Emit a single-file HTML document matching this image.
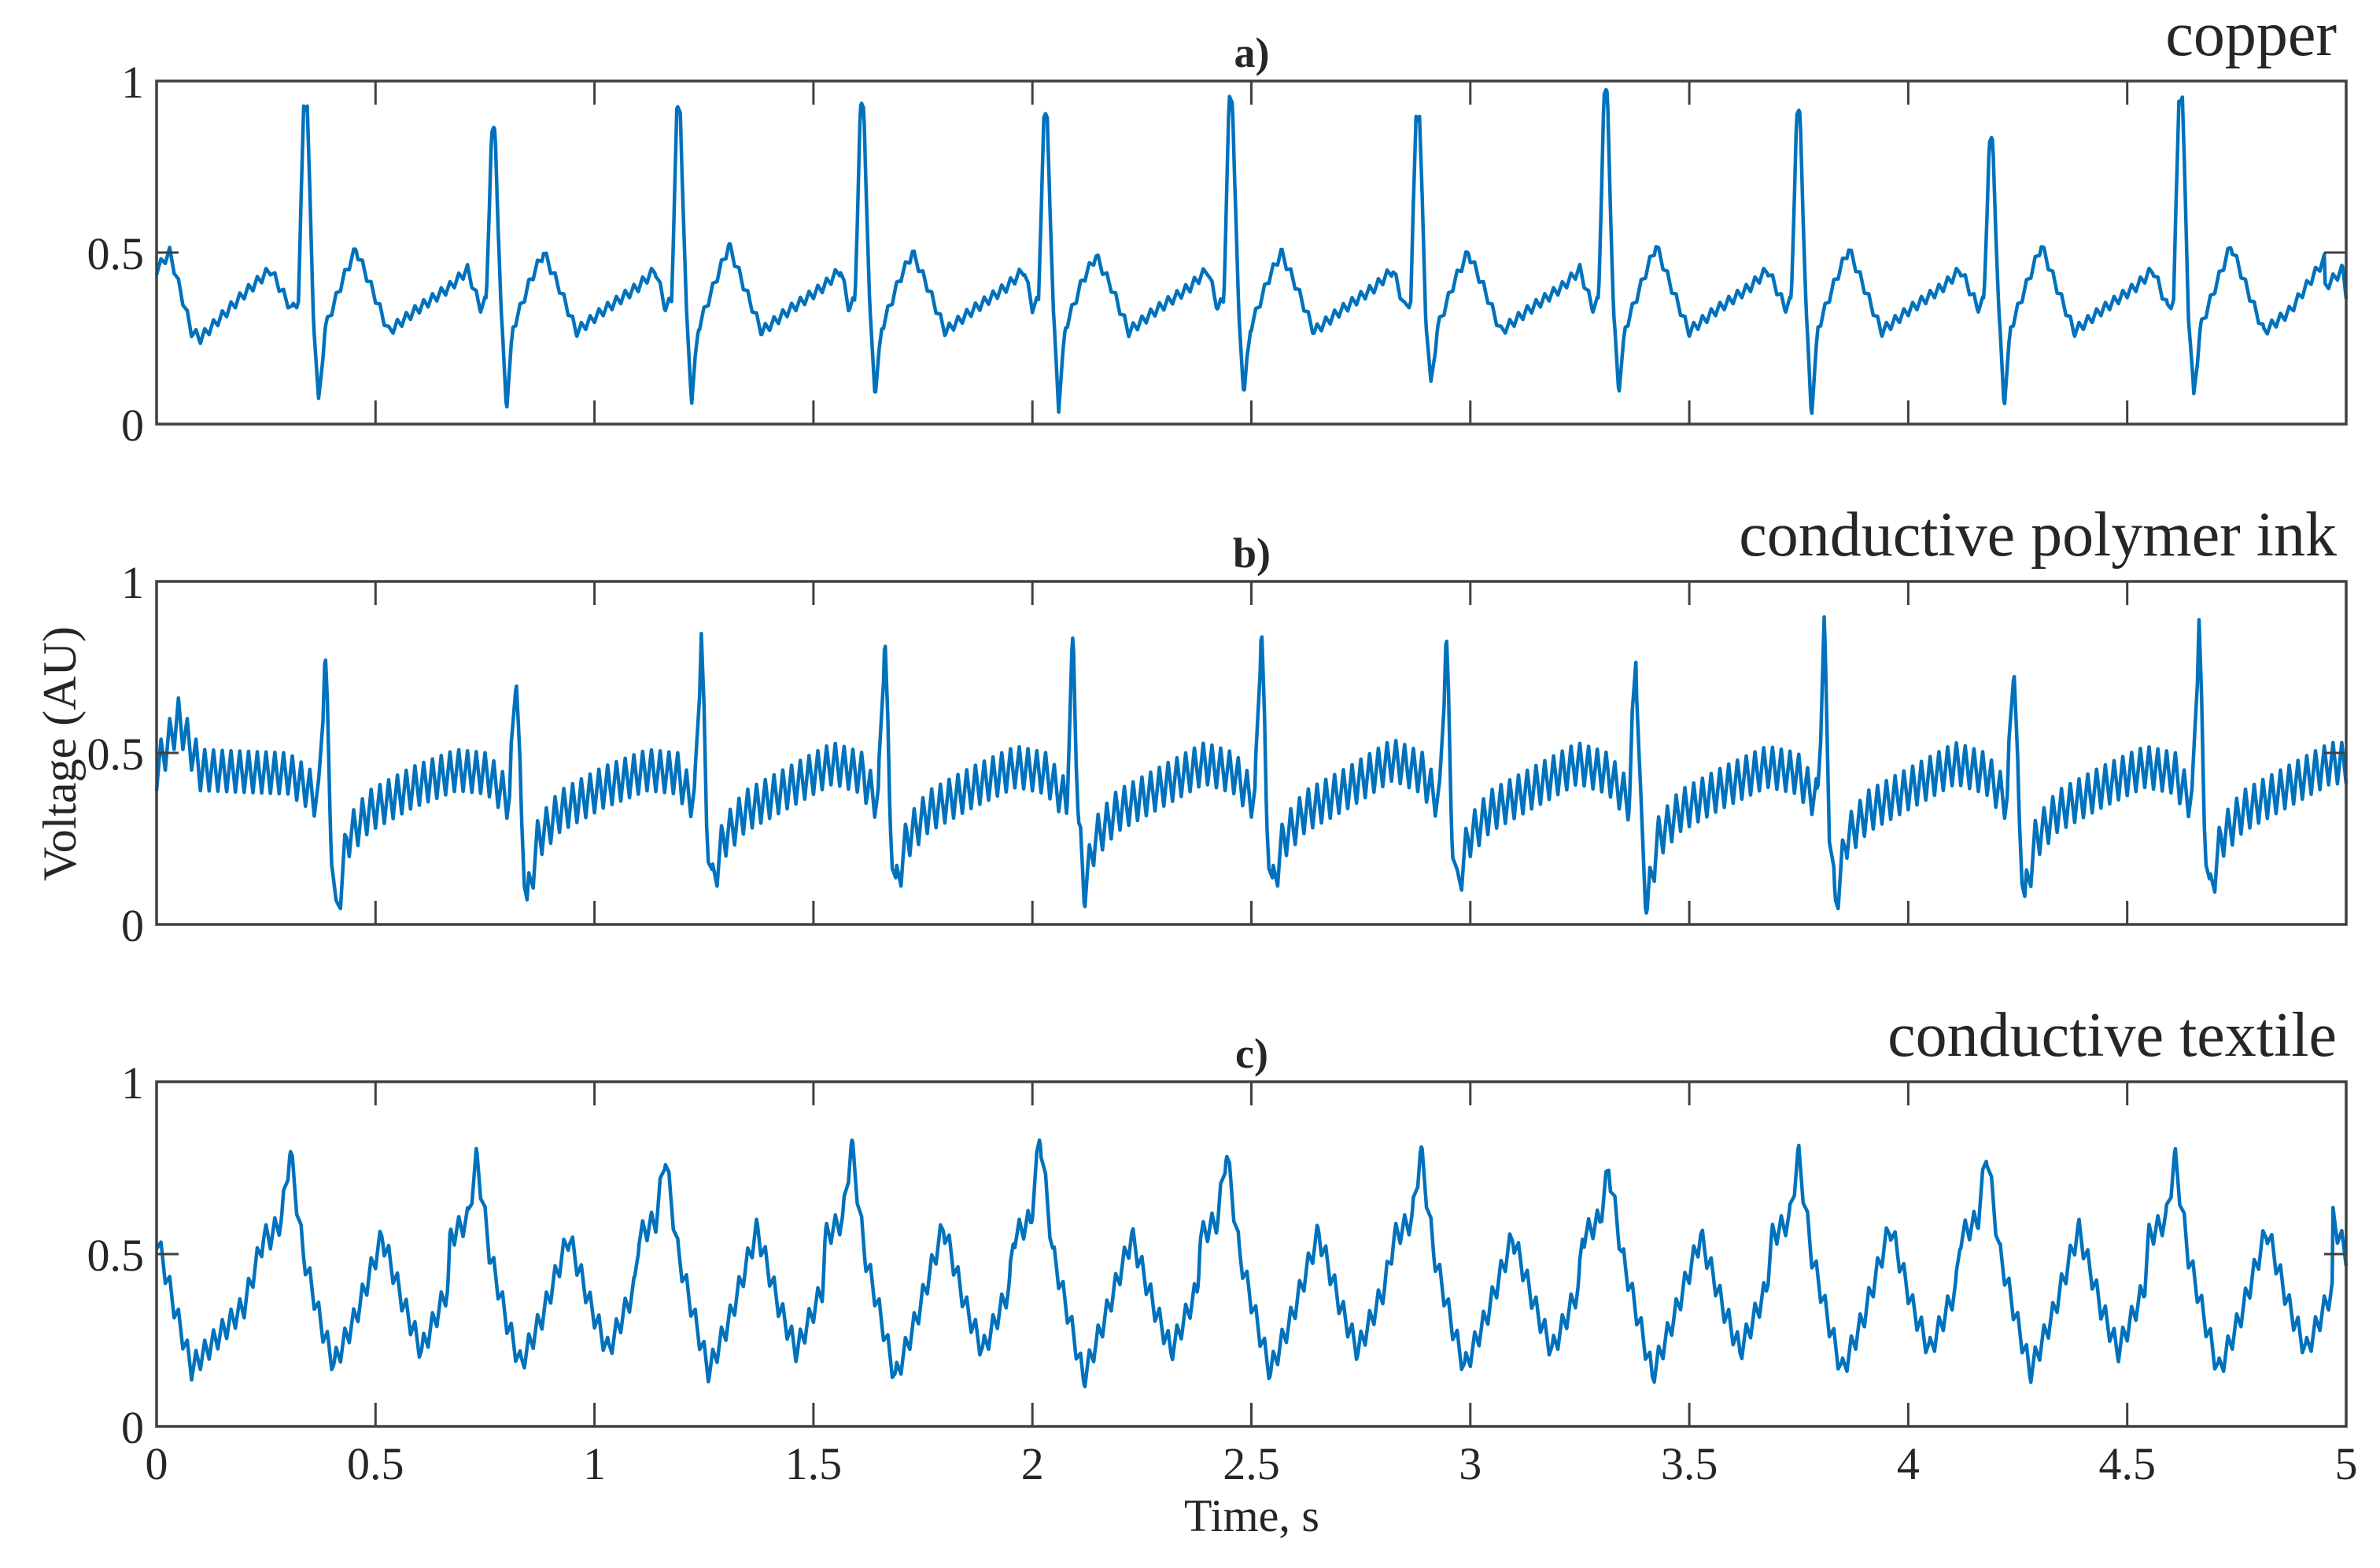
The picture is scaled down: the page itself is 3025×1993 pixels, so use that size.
<!DOCTYPE html>
<html><head><meta charset="utf-8"><style>
html,body{margin:0;padding:0;background:#fff;}
svg{display:block;}
text{font-family:"Liberation Serif",serif;fill:#262626;}
</style></head><body>
<svg id="chart" width="3025" height="1993" viewBox="0 0 3025 1993" xmlns="http://www.w3.org/2000/svg">
<g id="g"></g>
</svg>
<script>
// ---- data ----
const xTicks = [0,0.5,1,1.5,2,2.5,3,3.5,4,4.5,5];
const xTickLabels = ["0","0.5","1","1.5","2","2.5","3","3.5","4","4.5","5"];
const yTicks = [0,0.5,1];
const yTickLabels = ["0","0.5","1"];
const panelTitles = ["copper","conductive polymer ink","conductive textile"];
const panelLetters = ["a)","b)","c)"];

// copper
const aBeatTimes = [0.340,0.769,1.192,1.611,2.030,2.453,2.880,3.309,3.749,4.189,4.622];
const aRPeaks    = [0.93,0.85,0.91,0.92,0.89,0.94,0.90,0.96,0.90,0.82,0.95];
const aSTroughs  = [0.06,0.05,0.07,0.09,0.05,0.09,0.11,0.10,0.03,0.06,0.08];
const aTPeaks    = [0.51,0.50,0.52,0.50,0.49,0.50,0.50,0.52,0.51,0.52,0.52];
const aTplOffsets = [-0.03,-0.016,-0.004,0.004,0.018,0.03,0.045,0.085,0.115,0.15,0.19,0.25,0.33,0.37];
const aTplValues  = [0.34,0.36,"R","R",0.32,"S",0.28,0.42,"T",0.40,0.27,0.33,0.40,0.45];
const aStart = [[0,0.45],[0.03,0.5],[0.08,0.27],[0.1,0.25],[0.2,0.38],[0.26,0.45],[0.31,0.33]];
const aEnd = [[4.95,0.48],[5,0.38]];
const aRipple = 0.015;

// conductive polymer ink
const bBeatTimes = [0.385,0.821,1.244,1.663,2.093,2.523,2.945,3.378,3.808,4.241,4.664];
const bRPeaks    = [0.80,0.77,0.86,0.87,0.83,0.90,0.86,0.80,0.86,0.80,0.90];
const bSTroughs  = [0.01,0.06,0.11,0.10,0.10,0.10,0.10,0.05,0.05,0.07,0.08];
const bTPeaks    = [0.45,0.45,0.47,0.46,0.47,0.48,0.47,0.46,0.47,0.46,0.47];
const bTplOffsets = [-0.04,-0.015,0,0.012,0.025,0.05,0.1,0.2,0.3,0.37];
const bTplValues  = [0.40,0.36,"R",0.30,"S",0.25,0.33,0.40,"T",0.44];
const bStart = [[0,0.45],[0.05,0.6],[0.1,0.45],[0.3,0.44],[0.345,0.40]];
const bEnd = [[5,0.47]];
const bRipple = 0.06;

// conductive textile
const cBeatTimes = [0.305,0.731,1.161,1.587,2.017,2.443,2.887,3.316,3.749,4.179,4.609];
const cRPeaks    = [0.80,0.78,0.79,0.82,0.85,0.80,0.80,0.75,0.79,0.80,0.78];
const cSTroughs  = [0.18,0.18,0.16,0.14,0.14,0.16,0.17,0.15,0.16,0.16,0.16];
const cTPeaks    = [0.55,0.55,0.57,0.58,0.55,0.56,0.55,0.55,0.58,0.57,0.57];
const cTplOffsets = [-0.06,-0.02,0,0.03,0.07,0.1,0.15,0.21,0.26,0.3,0.36];
const cTplValues  = [0.55,0.60,"R",0.5,0.3,"S",0.32,"T",0.35,0.22,0.40];
const cStart = [[0,0.55],[0.04,0.35],[0.08,0.17],[0.2,0.35],[0.26,0.55]];
const cEnd = [[4.97,0.60],[5,0.50]];
const cRipple = 0.035;

// ---- layout ----
const X0=199, X1=2982;
const panels=[{top:103,bot:539},{top:739,bot:1175},{top:1375,bot:1813}];
const NS="http://www.w3.org/2000/svg";
const root=document.getElementById('g');
function el(tag,attrs,parent){const e=document.createElementNS(NS,tag);for(const k in attrs)e.setAttribute(k,attrs[k]);(parent||root).appendChild(e);return e;}
const xScale=t=>X0+(t/5)*(X1-X0);
function yScale(p,v){return p.bot-v*(p.bot-p.top);}

function buildKeys(times,R,S,T,offs,vals,start,end){
  const keys=start.slice();
  times.forEach((bt,i)=>{
    offs.forEach((o,j)=>{
      let v=vals[j];
      if(v==="R")v=R[i];else if(v==="S")v=S[i];else if(v==="T")v=T[i];
      keys.push([bt+o,v]);
    });
  });
  end.forEach(k=>keys.push(k));
  keys.sort((a,b)=>a[0]-b[0]);
  return keys;
}
function sample(keys,ripple){
  const pts=[];let k=0;
  for(let i=0;i<=2500;i++){
    const t=i*0.002;
    while(k<keys.length-2&&keys[k+1][0]<t)k++;
    const a=keys[k],b=keys[k+1];
    let v=a[1];
    if(b&&b[0]>a[0])v=a[1]+(b[1]-a[1])*Math.max(0,Math.min(1,(t-a[0])/(b[0]-a[0])));
    const ph=i%10; // 50 Hz interference pattern
    const tri=ph<5?(ph/2.5-1):(1-(ph-5)/2.5);
    v+=ripple*tri;
    pts.push([t,Math.max(0,Math.min(1,v))]);
  }
  return pts;
}
const series=[
  buildKeys(aBeatTimes,aRPeaks,aSTroughs,aTPeaks,aTplOffsets,aTplValues,aStart,aEnd),
  buildKeys(bBeatTimes,bRPeaks,bSTroughs,bTPeaks,bTplOffsets,bTplValues,bStart,bEnd),
  buildKeys(cBeatTimes,cRPeaks,cSTroughs,cTPeaks,cTplOffsets,cTplValues,cStart,cEnd)
];
const ripples=[aRipple,bRipple,cRipple];

panels.forEach((p,pi)=>{
  const g=el('g',{});
  
  
  const pts=sample(series[pi],ripples[pi]);
  const line=el('polyline',{points:pts.map(q=>xScale(q[0]).toFixed(1)+','+yScale(p,q[1]).toFixed(1)).join(' '),fill:'none',stroke:'#0072BD','stroke-width':4.5,'stroke-linejoin':'round'},g);
  
  
  const box=el('rect',{x:X0,y:p.top,width:X1-X0,height:p.bot-p.top,fill:'none',stroke:'#404040','stroke-width':3.5},g);
  
  
  xTicks.forEach((t,i)=>{
    const x=xScale(t);
    el('line',{x1:x,y1:p.top,x2:x,y2:p.top+30,stroke:'#404040','stroke-width':3},g);
    el('line',{x1:x,y1:p.bot,x2:x,y2:p.bot-30,stroke:'#404040','stroke-width':3},g);
    if(pi===2){
      const tl=el('text',{x:x,y:1880,'font-size':58,'text-anchor':'middle'},g);
      tl.textContent=xTickLabels[i];
      
      
    }
  });
  yTicks.forEach((v,i)=>{
    const y=yScale(p,v);
    el('line',{x1:X0,y1:y,x2:X0+28,y2:y,stroke:'#404040','stroke-width':3},g);
    el('line',{x1:X1,y1:y,x2:X1-28,y2:y,stroke:'#404040','stroke-width':3},g);
    const tl=el('text',{x:183,y:y+21,'font-size':58,'text-anchor':'end'},g);
    tl.textContent=yTickLabels[i];
    
    
  });
  const tt=el('text',{x:2970,y:p.top-33,'font-size':80,'text-anchor':'end'},g);
  tt.textContent=panelTitles[pi];
  
  
  const lt=el('text',{x:1591,y:p.top-18,'font-size':54,'font-weight':'bold','text-anchor':'middle'},g);
  lt.textContent=panelLetters[pi];
  
  
});
const yl=el('text',{x:0,y:0,'font-size':60,'text-anchor':'middle',transform:'translate(96,958) rotate(-90)'});
yl.textContent='Voltage (AU)';


const xl=el('text',{x:1591,y:1946,'font-size':58,'text-anchor':'middle'});
xl.textContent='Time, s';


</script>
</body></html>
